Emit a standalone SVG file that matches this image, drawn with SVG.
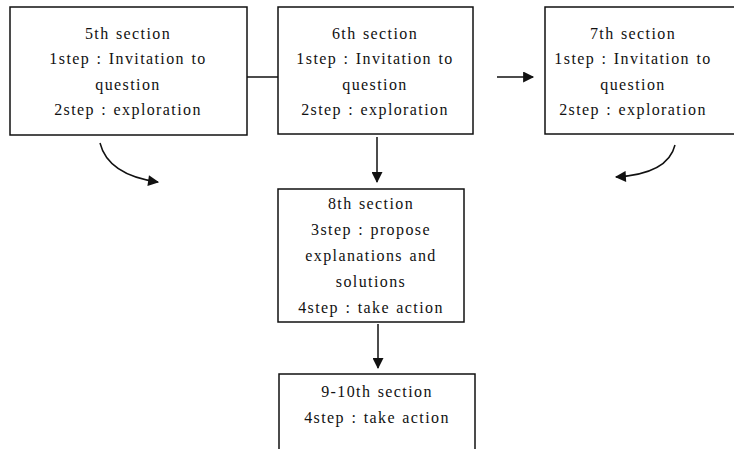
<svg xmlns="http://www.w3.org/2000/svg" width="734" height="449" viewBox="0 0 734 449">
<style>
.box{fill:#fff;stroke:#111;stroke-width:1.5}
.t{font-family:"Liberation Serif",serif;font-size:16px;fill:#111;text-anchor:middle;letter-spacing:1.4px;word-spacing:1px}
.c{fill:none;stroke:#111;stroke-width:1.5}
</style>
<defs>
<marker id="ah" viewBox="0 0 10 10" refX="9" refY="5" markerWidth="13" markerHeight="11" markerUnits="userSpaceOnUse" orient="auto">
<path d="M0,0 L10,5 L0,10 z" fill="#111"/>
</marker>
</defs>
<g id="connectors">
<line class="c" x1="247" y1="77" x2="278" y2="77"/>
<line class="c" x1="497" y1="77" x2="533" y2="77" marker-end="url(#ah)"/>
<path class="c" d="M100,143 Q108,175 158,182" marker-end="url(#ah)"/>
<path class="c" d="M675,145 Q668,174 616,177" marker-end="url(#ah)"/>
<line class="c" x1="377" y1="137" x2="377" y2="182" marker-end="url(#ah)"/>
<line class="c" x1="378" y1="324" x2="378" y2="368" marker-end="url(#ah)"/>
</g>
<g id="n5">
<rect class="box" x="10" y="7" width="237" height="128"/>
<text class="t" x="128" y="39">5th section</text>
<text class="t" x="128" y="64">1step : Invitation to</text>
<text class="t" x="128" y="90">question</text>
<text class="t" x="128" y="115">2step : exploration</text>
</g>
<g id="n6">
<rect class="box" x="278" y="7" width="195" height="127"/>
<text class="t" x="375" y="39">6th section</text>
<text class="t" x="375" y="64">1step : Invitation to</text>
<text class="t" x="375" y="90">question</text>
<text class="t" x="375" y="115">2step : exploration</text>
</g>
<g id="n7">
<rect class="box" x="545" y="7" width="200" height="127"/>
<text class="t" x="633" y="39">7th section</text>
<text class="t" x="633" y="64">1step : Invitation to</text>
<text class="t" x="633" y="90">question</text>
<text class="t" x="633" y="115">2step : exploration</text>
</g>
<g id="n8">
<rect class="box" x="278" y="189" width="186" height="133"/>
<text class="t" x="371" y="209">8th section</text>
<text class="t" x="371" y="235">3step : propose</text>
<text class="t" x="371" y="261">explanations and</text>
<text class="t" x="371" y="287">solutions</text>
<text class="t" x="371" y="313">4step : take action</text>
</g>
<g id="n9">
<rect class="box" x="279" y="374" width="196" height="90"/>
<text class="t" x="377" y="397">9-10th section</text>
<text class="t" x="377" y="423">4step : take action</text>
</g>
</svg>
